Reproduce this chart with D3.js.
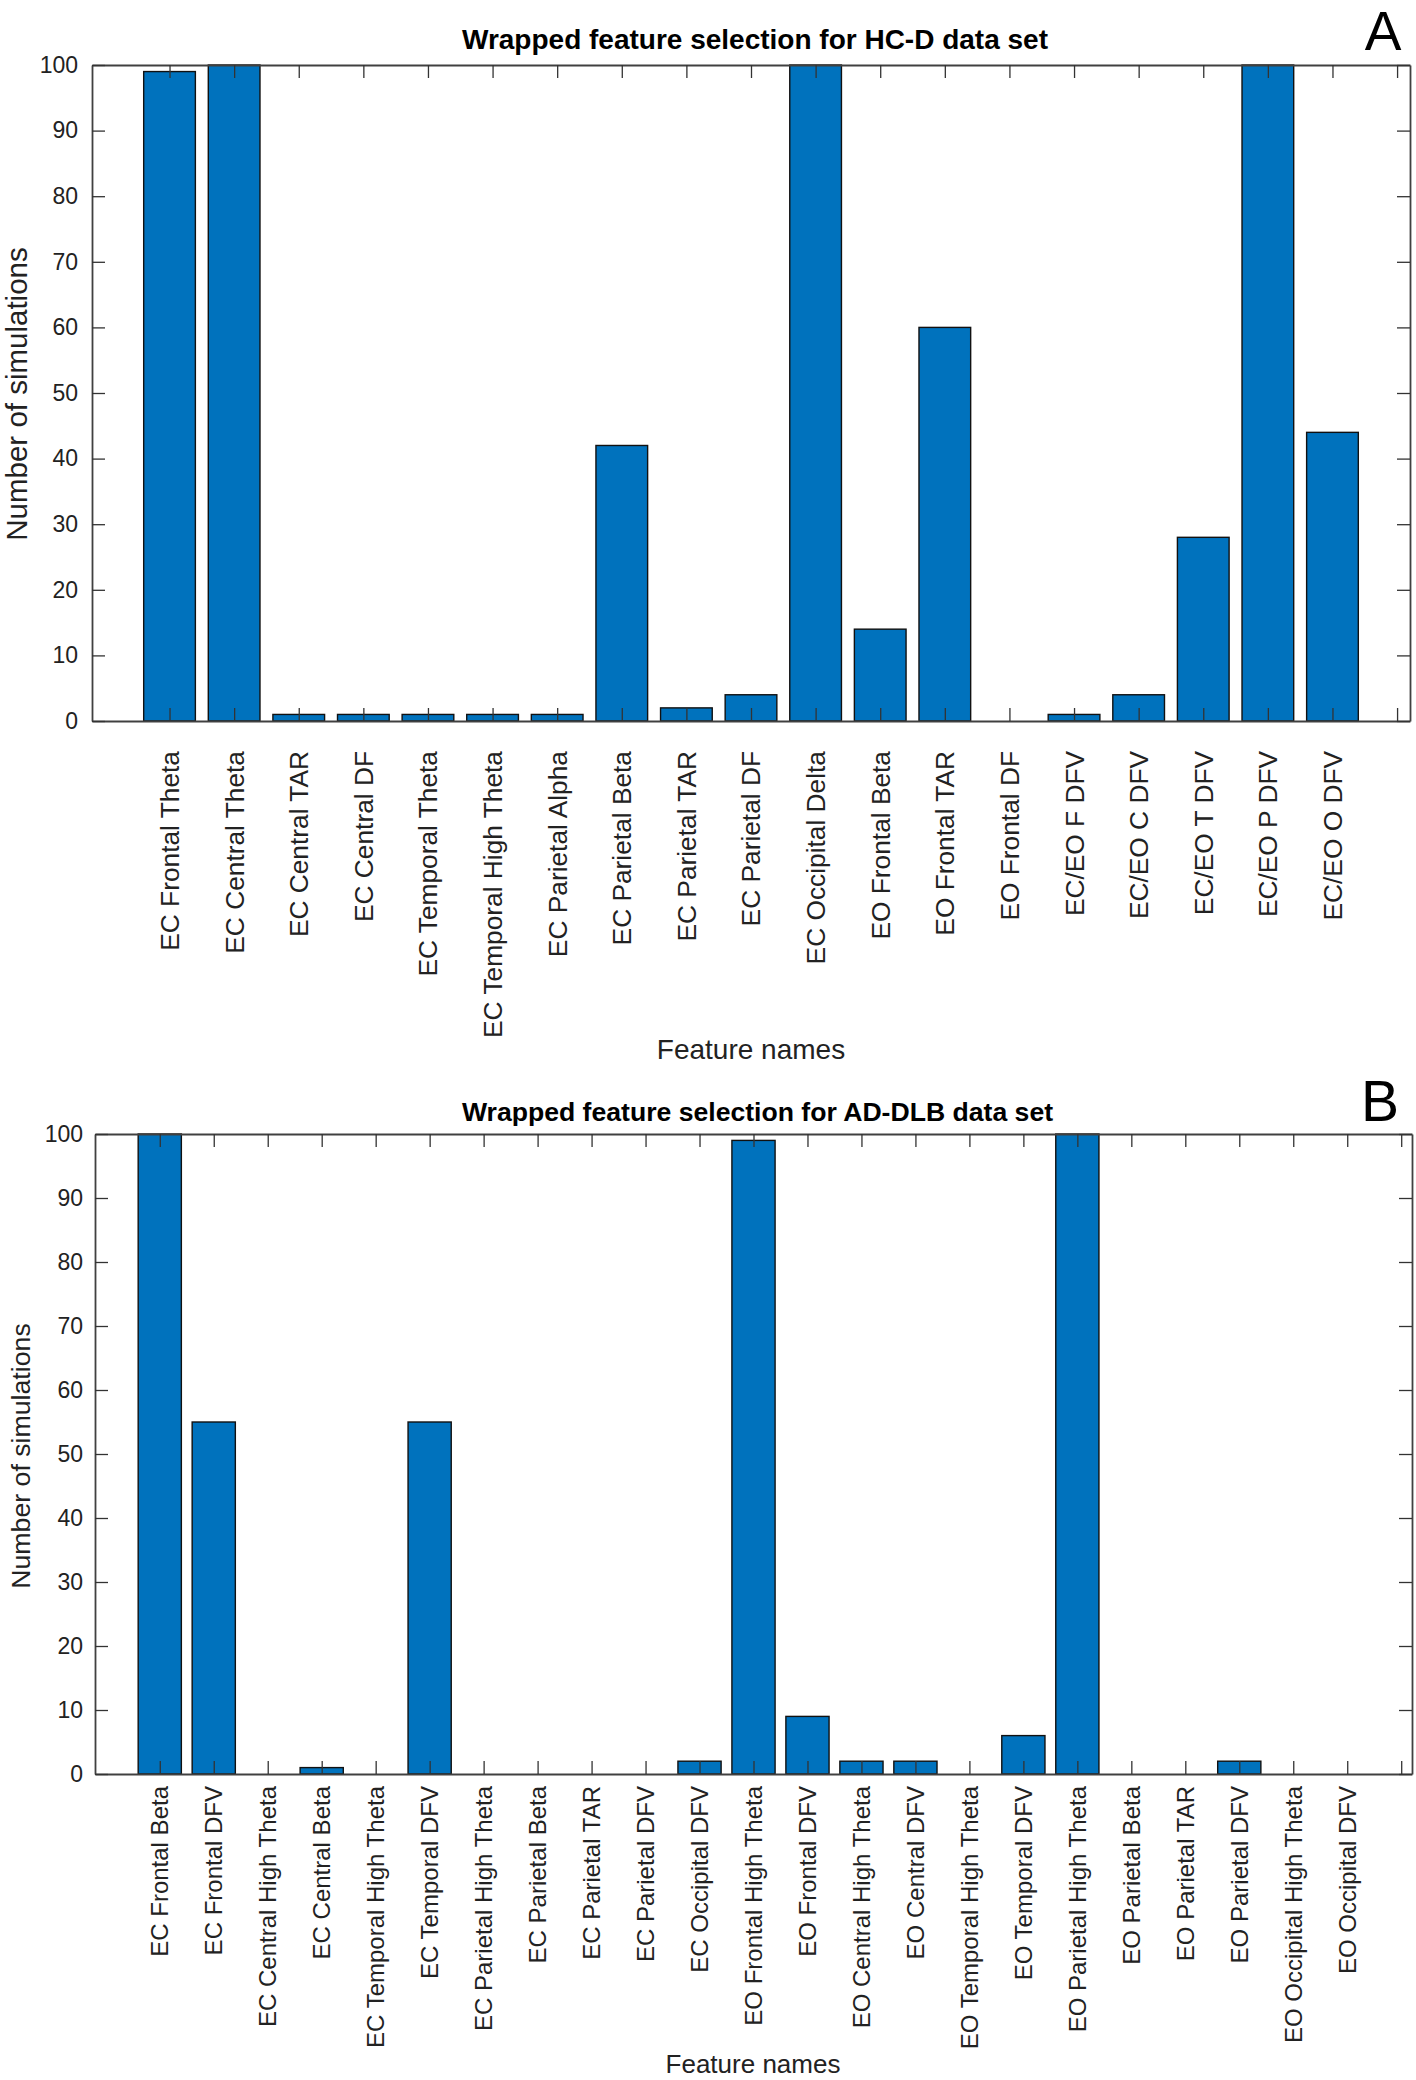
<!DOCTYPE html>
<html>
<head>
<meta charset="utf-8">
<script src="https://cdn.jsdelivr.net/npm/d3@7"></script>
<style>
  html, body { margin: 0; padding: 0; background: #fff; }
  svg { display: block; font-family: Arial, "Liberation Sans", Helvetica, sans-serif; }
</style>
</head>
<body>
<svg id="fig" width="1416" height="2080"></svg>
<script>
// ---------- Data ----------
const categoriesA = [
  "EC Frontal Theta", "EC Central Theta", "EC Central TAR", "EC Central DF",
  "EC Temporal Theta", "EC Temporal High Theta", "EC Parietal Alpha", "EC Parietal Beta",
  "EC Parietal TAR", "EC Parietal DF", "EC Occipital Delta", "EO Frontal Beta",
  "EO Frontal TAR", "EO Frontal DF", "EC/EO F DFV", "EC/EO C DFV",
  "EC/EO T DFV", "EC/EO P DFV", "EC/EO O DFV"
];
const valuesA = [99, 100, 1, 1, 1, 1, 1, 42, 2, 4, 100, 14, 60, 0, 1, 4, 28, 100, 44];

const categoriesB = [
  "EC Frontal Beta", "EC Frontal DFV", "EC Central High Theta", "EC Central Beta",
  "EC Temporal High Theta", "EC Temporal DFV", "EC Parietal High Theta", "EC Parietal Beta",
  "EC Parietal TAR", "EC Parietal DFV", "EC Occipital DFV", "EO Frontal High Theta",
  "EO Frontal DFV", "EO Central High Theta", "EO Central DFV", "EO Temporal High Theta",
  "EO Temporal DFV", "EO Parietal High Theta", "EO Parietal Beta", "EO Parietal TAR",
  "EO Parietal DFV", "EO Occipital High Theta", "EO Occipital DFV"
];
const valuesB = [100, 55, 0, 1, 0, 55, 0, 0, 0, 0, 2, 99, 9, 2, 2, 0, 6, 100, 0, 0, 2, 0, 0];

const yTickValues = [0, 10, 20, 30, 40, 50, 60, 70, 80, 90, 100];
const yDomain = [0, 100];

const titleA = "Wrapped feature selection for HC-D data set";
const titleB = "Wrapped feature selection for AD-DLB data set";
const yAxisLabel = "Number of simulations";
const xAxisLabel = "Feature names";

// ---------- Drawing ----------
const svg = d3.select("#fig");
const BAR_FILL = "#0072BD";
const AXIS_COL = "#404040";

function drawPanel(cfg) {
  const g = svg.append("g");
  const nSlots = cfg.categories.length + 1;           // one extra, unlabeled tick position
  const slotIdx = d3.range(1, nSlots + 1);

  const x = d3.scaleLinear().domain([-0.2, nSlots + 0.2]).range([cfg.left, cfg.right]);
  const y = d3.scaleLinear().domain(yDomain).range([cfg.bottom, cfg.top]);

  const data = cfg.categories.map((c, i) => ({ name: c, value: cfg.values[i], pos: i + 1 }));

  // bars
  g.append("g").selectAll("rect").data(data).join("rect")
    .attr("x", d => x(d.pos - 0.4))
    .attr("width", d => x(d.pos + 0.4) - x(d.pos - 0.4))
    .attr("y", d => y(d.value))
    .attr("height", d => y(0) - y(d.value))
    .attr("fill", BAR_FILL)
    .attr("stroke", "#111")
    .attr("stroke-width", 1.4);

  const tickLen = 13;

  const bottomAxis = d3.axisBottom(x).tickValues(slotIdx)
    .tickSizeInner(-tickLen).tickSizeOuter(0).tickFormat("");
  const gb = g.append("g").attr("transform", `translate(0,${cfg.bottom})`).call(bottomAxis);
  const topAxis = d3.axisTop(x).tickValues(slotIdx)
    .tickSizeInner(-tickLen).tickSizeOuter(0).tickFormat("");
  const gt = g.append("g").attr("transform", `translate(0,${cfg.top})`).call(topAxis);
  const leftAxis = d3.axisLeft(y).tickValues(yTickValues)
    .tickSizeInner(-tickLen).tickSizeOuter(0).tickPadding(cfg.yTickPad).tickFormat(d3.format("d"));
  const gl = g.append("g").attr("transform", `translate(${cfg.left},0)`).call(leftAxis);
  const rightAxis = d3.axisRight(y).tickValues(yTickValues)
    .tickSizeInner(-tickLen).tickSizeOuter(0).tickFormat("");
  const gr = g.append("g").attr("transform", `translate(${cfg.right},0)`).call(rightAxis);

  [gb, gt, gl, gr].forEach(a => {
    a.select(".domain").attr("stroke", AXIS_COL).attr("stroke-width", 1.8);
    a.selectAll(".tick line").attr("stroke", "#333").attr("stroke-width", 1.3);
  });
  gl.selectAll(".tick text")
    .attr("font-size", cfg.yTickFont)
    .attr("font-family", "Arial, 'Liberation Sans', sans-serif")
    .attr("fill", "#222");

  g.append("g").selectAll("text").data(data).join("text")
    .attr("transform", d => `translate(${x(d.pos)},${cfg.bottom + cfg.xLabelGap}) rotate(-90)`)
    .attr("text-anchor", "end")
    .attr("dy", "0.36em")
    .attr("font-size", cfg.xTickFont)
    .attr("fill", "#222")
    .text(d => d.name);

  g.append("text")
    .attr("x", (cfg.left + cfg.right) / 2 + 4)
    .attr("y", cfg.titleY)
    .attr("text-anchor", "middle")
    .attr("font-weight", "bold")
    .attr("font-size", cfg.titleFont)
    .attr("fill", "#000")
    .text(cfg.title);

  g.append("text")
    .attr("transform", `translate(${cfg.yLabelX},${(cfg.top + cfg.bottom) / 2 + cfg.yLabelShift}) rotate(-90)`)
    .attr("text-anchor", "middle")
    .attr("font-size", cfg.yLabelFont)
    .attr("fill", "#222")
    .text(yAxisLabel);

  g.append("text")
    .attr("x", cfg.xLabelX)
    .attr("y", cfg.xLabelY)
    .attr("text-anchor", "middle")
    .attr("font-size", cfg.xLabelFont)
    .attr("fill", "#222")
    .text(xAxisLabel);

  g.append("text")
    .attr("x", cfg.letterX)
    .attr("y", cfg.letterY)
    .attr("text-anchor", "middle")
    .attr("font-size", cfg.letterFont)
    .attr("fill", "#000")
    .text(cfg.letter);
}

drawPanel({
  categories: categoriesA, values: valuesA, title: titleA, letter: "A",
  left: 92, right: 1410, top: 65, bottom: 721,
  yTickFont: 23, yTickPad: 14, xTickFont: 26.3, xLabelGap: 30,
  titleY: 49, titleFont: 28,
  yLabelX: 27, yLabelShift: 1, yLabelFont: 29.5,
  xLabelX: 751, xLabelY: 1059, xLabelFont: 28,
  letterX: 1383, letterY: 50, letterFont: 55
});

drawPanel({
  categories: categoriesB, values: valuesB, title: titleB, letter: "B",
  left: 95, right: 1412, top: 1134, bottom: 1774,
  yTickFont: 23, yTickPad: 12, xTickFont: 24, xLabelGap: 12,
  titleY: 1121, titleFont: 26.6,
  yLabelX: 30, yLabelShift: 2, yLabelFont: 26.7,
  xLabelX: 753, xLabelY: 2073, xLabelFont: 26,
  letterX: 1380, letterY: 1121, letterFont: 57
});
</script>
</body>
</html>
